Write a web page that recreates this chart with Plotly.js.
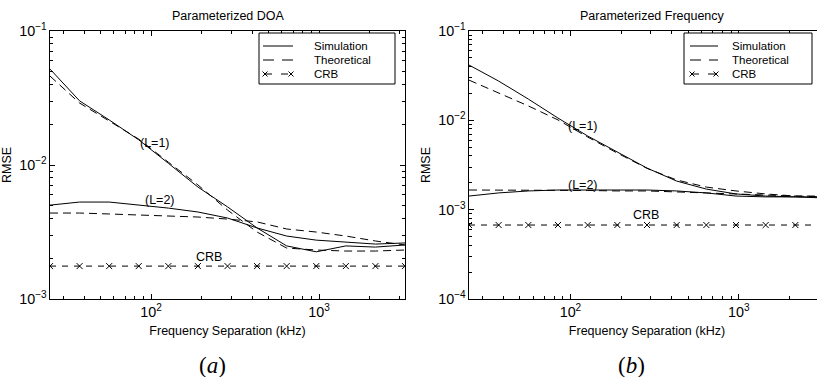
<!DOCTYPE html>
<html>
<head>
<meta charset="utf-8">
<script src="https://cdn.plot.ly/plotly-3.0.1.min.js"></script>
<style>
html,body{margin:0;padding:0;overflow:hidden;background:#fff;}
#chart{width:830px;height:377px;}
</style>
</head>
<body>
<div id="chart"></div>
<script>
// Frequency separation (kHz), shared by both panels
const freq = [25, 37.5, 56.25, 84.375, 126.5625, 189.84, 284.77, 427.15, 640.72, 961.08, 1441.6, 2162.4, 3243.7];

// (a) Parameterized DOA
const doaSimL1 = [0.0520, 0.0301, 0.0217, 0.0154, 0.0103, 0.00685, 0.00487, 0.00339, 0.00249, 0.00225, 0.00249, 0.00244, 0.00253];
const doaTheoL1 = [0.0461, 0.0290, 0.0213, 0.0156, 0.0105, 0.0071, 0.00461, 0.00316, 0.00240, 0.00232, 0.00228, 0.00228, 0.00232];
const doaSimL2 = [0.00502, 0.00529, 0.00529, 0.00502, 0.00477, 0.00446, 0.00402, 0.00339, 0.00295, 0.00275, 0.00266, 0.00257, 0.00262];
const doaTheoL2 = [0.00438, 0.00438, 0.00431, 0.00423, 0.00416, 0.00409, 0.00395, 0.00376, 0.00333, 0.00316, 0.00295, 0.00271, 0.00253];
const doaCRB = [0.00176, 0.00176, 0.00176, 0.00176, 0.00176, 0.00176, 0.00176, 0.00176, 0.00176, 0.00176, 0.00176, 0.00176, 0.00176];

// (b) Parameterized Frequency
const frqSimL1 = [0.0416, 0.0275, 0.0173, 0.0106, 0.00668, 0.00442, 0.00292, 0.00209, 0.00170, 0.00150, 0.00142, 0.00139, 0.00135];
const frqTheoL1 = [0.0282, 0.0202, 0.0145, 0.0101, 0.0065, 0.0043, 0.0029, 0.00215, 0.00179, 0.00162, 0.00150, 0.00142, 0.00139];
const frqSimL2 = [0.00142, 0.00154, 0.00162, 0.00166, 0.00166, 0.00166, 0.00166, 0.00162, 0.00154, 0.00142, 0.00139, 0.00139, 0.00139];
const frqTheoL2 = [0.00166, 0.00166, 0.00166, 0.00166, 0.00164, 0.00162, 0.00162, 0.00158, 0.00154, 0.00150, 0.00146, 0.00142, 0.00142];
const frqCRB = [0.000673, 0.000673, 0.000673, 0.000673, 0.000673, 0.000673, 0.000673, 0.000673, 0.000673, 0.000673, 0.000673, 0.000673, 0.000673];

const legendNames = ['Simulation', 'Theoretical', 'CRB'];
const panelTitles = ['Parameterized DOA', 'Parameterized Frequency'];
const panelTags = ['(<i>a</i>)', '(<i>b</i>)'];
const curveLabels = ['(L=1)', '(L=2)', 'CRB'];
const xTitle = 'Frequency Separation (kHz)';
const yTitle = 'RMSE';

const FONT = 'Liberation Sans, Arial, Helvetica, sans-serif';
const FS = 12.5;
const solid = {color: '#000', width: 1};
const theoLine = {color: '#000', width: 1, dash: '8px,5px'};
const crbLine = {color: '#000', width: 1, dash: '6px,6px'};
const crbMarker = {symbol: 'x-thin-open', size: 6, color: '#000', line: {color: '#000', width: 1}};

function panel(xa, ya, sim1, theo1, sim2, theo2, crb) {
  return [
    {x: freq, y: sim1, xaxis: xa, yaxis: ya, mode: 'lines', line: solid, name: legendNames[0]},
    {x: freq, y: theo1, xaxis: xa, yaxis: ya, mode: 'lines', line: theoLine, name: legendNames[1]},
    {x: freq, y: crb, xaxis: xa, yaxis: ya, mode: 'lines+markers', line: crbLine, marker: crbMarker, name: legendNames[2]},
    {x: freq, y: sim2, xaxis: xa, yaxis: ya, mode: 'lines', line: solid, name: legendNames[0]},
    {x: freq, y: theo2, xaxis: xa, yaxis: ya, mode: 'lines', line: theoLine, name: legendNames[1]}
  ];
}

const data = [].concat(
  panel('x', 'y', doaSimL1, doaTheoL1, doaSimL2, doaTheoL2, doaCRB),
  panel('x2', 'y2', frqSimL1, frqTheoL1, frqSimL2, frqTheoL2, frqCRB)
);

const W = 830, H = 377;
const px = v => v / W, py = v => (H - v) / H;
const xr = [Math.log10(freq[0]), Math.log10(freq[freq.length - 1])];
const txtFont = {family: FONT, size: FS, color: '#000'};
const legFont = {family: FONT, size: 11.5, color: '#000'};

function xaxis(dom, anchor) {
  return {
    type: 'log', domain: dom, range: xr, dtick: 1, exponentformat: 'power', anchor: anchor,
    showline: true, linecolor: '#000', linewidth: 1, mirror: 'ticks',
    ticks: 'inside', ticklen: 5, tickcolor: '#000', showgrid: false, zeroline: false,
    minor: {ticks: 'inside', ticklen: 3, tickcolor: '#000', showgrid: false},
    tickfont: {family: FONT, size: 11.5, color: '#000'},
    title: {text: xTitle, font: txtFont, standoff: 7}
  };
}
function yaxis(dom, rng, anchor) {
  return {
    type: 'log', domain: dom, range: rng, dtick: 1, exponentformat: 'power', anchor: anchor,
    showline: true, linecolor: '#000', linewidth: 1, mirror: 'ticks',
    ticks: 'inside', ticklen: 5, tickcolor: '#000', showgrid: false, zeroline: false,
    minor: {ticks: 'inside', ticklen: 3, tickcolor: '#000', showgrid: false},
    tickfont: {family: FONT, size: 11.5, color: '#000'},
    title: {text: yTitle, font: txtFont, standoff: 4}
  };
}

// Hand-built legend box (Plotly's legend rows are too tall for this figure)
const rowY = [46, 60, 74];
function legendParts(bx0, bx1, by0, by1, sx0, sx1, tx) {
  const shapes = [];
  const ann = [];
  const P = (x0, y0, x1, y1, extra) => Object.assign({type: 'line', xref: 'paper', yref: 'paper',
    x0: px(x0), y0: py(y0), x1: px(x1), y1: py(y1), line: {color: '#000', width: 1}}, extra || {});
  shapes.push({type: 'rect', xref: 'paper', yref: 'paper', x0: px(bx0), x1: px(bx1), y0: py(by1), y1: py(by0),
    line: {color: '#000', width: 1}, fillcolor: '#fff', layer: 'above'});
  shapes.push(P(sx0, rowY[0], sx1, rowY[0]));
  shapes.push(P(sx0, rowY[1], sx1, rowY[1], {line: {color: '#000', width: 1, dash: '11px,8px'}}));
  shapes.push(P(sx0 + 2, rowY[2], sx1 - 2, rowY[2], {line: {color: '#000', width: 1, dash: '7px,9px'}}));
  [sx0 + 2, sx1 - 2].forEach(cx => {
    shapes.push(P(cx - 2.5, rowY[2] - 2.5, cx + 2.5, rowY[2] + 2.5));
    shapes.push(P(cx - 2.5, rowY[2] + 2.5, cx + 2.5, rowY[2] - 2.5));
  });
  legendNames.forEach((n, i) => ann.push({text: n, xref: 'paper', yref: 'paper', x: px(tx), y: py(rowY[i]),
    xanchor: 'left', yanchor: 'middle', showarrow: false, font: legFont}));
  return {shapes, ann};
}
const legA = legendParts(259, 395, 33, 84, 263, 293, 312);
const legB = legendParts(684, 812, 33, 84, 690, 718, 730);

const yDom = [py(299), py(31)];
const lab = (t, xr_, yr_, fx, fy) => ({text: t, xref: xr_, yref: yr_, x: Math.log10(fx), y: Math.log10(fy),
  xanchor: 'center', yanchor: 'middle', showarrow: false, font: txtFont});

const layout = {
  width: W, height: H,
  margin: {l: 0, r: 0, t: 0, b: 0},
  paper_bgcolor: '#fff', plot_bgcolor: '#fff',
  showlegend: false,
  xaxis: xaxis([px(50), px(405)], 'y'),
  yaxis: yaxis(yDom, [-3, -1], 'x'),
  xaxis2: xaxis([px(469), px(825)], 'y2'),
  yaxis2: yaxis(yDom, [-4, -1], 'x2'),
  shapes: [].concat(legA.shapes, legB.shapes),
  annotations: [
    {text: panelTitles[0], xref: 'paper', yref: 'paper', x: px(228), y: py(16), xanchor: 'center', yanchor: 'middle', showarrow: false, font: txtFont},
    {text: panelTitles[1], xref: 'paper', yref: 'paper', x: px(652), y: py(16), xanchor: 'center', yanchor: 'middle', showarrow: false, font: txtFont},
    lab(curveLabels[0], 'x', 'y', 105, 0.0146),
    lab(curveLabels[1], 'x', 'y', 113, 0.00548),
    lab(curveLabels[2], 'x', 'y', 221, 0.00206),
    lab(curveLabels[0], 'x2', 'y2', 119, 0.00865),
    lab(curveLabels[1], 'x2', 'y2', 119, 0.00189),
    lab(curveLabels[2], 'x2', 'y2', 279, 0.00087),
    {text: panelTags[0], xref: 'paper', yref: 'paper', x: px(213), y: py(365), xanchor: 'center', yanchor: 'middle', showarrow: false, font: {family: 'Liberation Serif, DejaVu Serif, serif', size: 23, color: '#000'}},
    {text: panelTags[1], xref: 'paper', yref: 'paper', x: px(631), y: py(365), xanchor: 'center', yanchor: 'middle', showarrow: false, font: {family: 'Liberation Serif, DejaVu Serif, serif', size: 23, color: '#000'}}
  ].concat(legA.ann, legB.ann)
};

Plotly.newPlot('chart', data, layout, {staticPlot: true, displayModeBar: false});
</script>
</body>
</html>
